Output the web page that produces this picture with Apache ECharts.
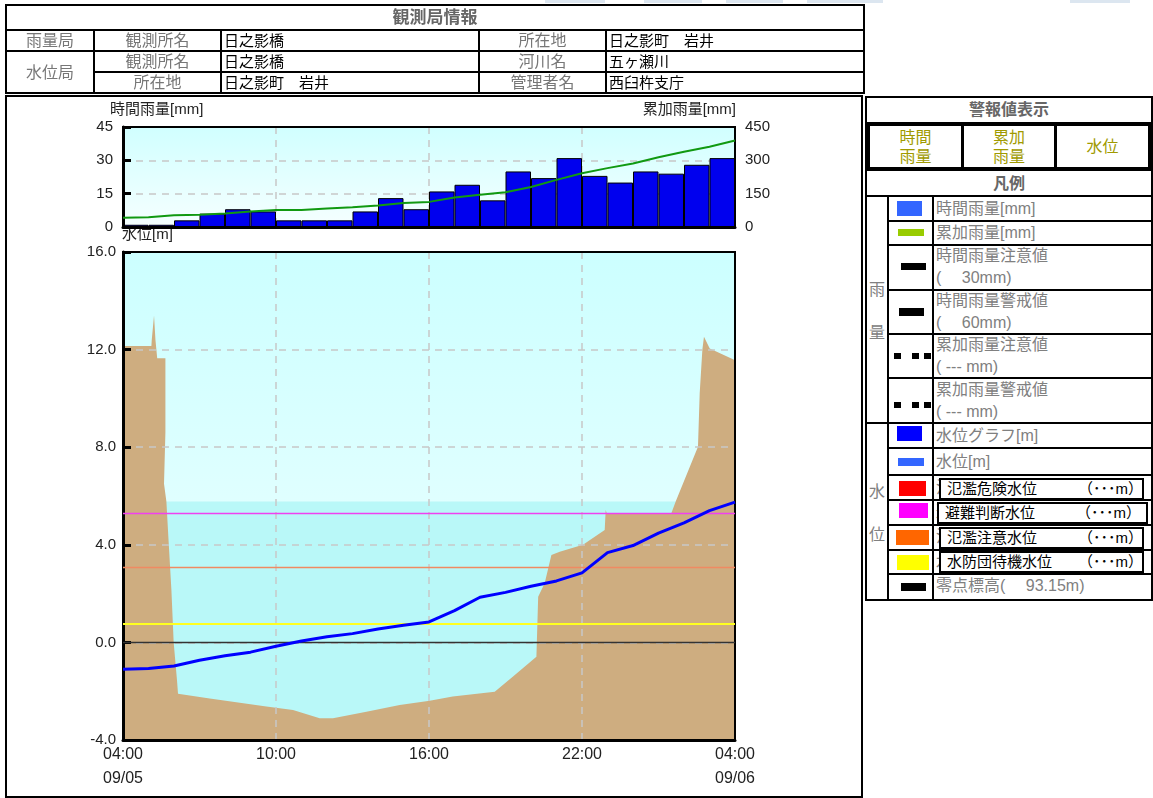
<!DOCTYPE html>
<html><head><meta charset="utf-8">
<script src="https://cdn.jsdelivr.net/npm/echarts@6/dist/echarts.min.js"></script>
<style>
body{margin:0;width:1153px;height:798px;position:relative;background:#fff;overflow:hidden;
 font-family:"Liberation Sans","Noto Sans CJK JP",sans-serif}
.a{position:absolute;box-sizing:border-box}
#chart{position:absolute;left:0;top:0;width:1153px;height:798px;z-index:2}
.info{position:absolute;left:5px;top:4px;border-collapse:collapse;table-layout:fixed;width:858px;z-index:3}
.info td{border:2px solid #000;padding:0 2px;height:19px;line-height:19px;font-size:15px;white-space:nowrap;overflow:hidden}
.info td.l{color:#777;text-align:center;font-size:16px}
.info td.v{color:#000}
.info td.t{color:#666;text-align:center;font-weight:bold;font-size:17px;height:23px;line-height:23px}
.lg{color:#808080;font-size:16px;line-height:22px;white-space:nowrap}
.hl{position:absolute;background:#000;height:2px}
.vl{position:absolute;background:#000;width:2px}
.box{position:absolute;border:2px solid #000;background:#fff;color:#000;font-size:15px;line-height:18px;box-sizing:border-box;white-space:nowrap}
.strip{position:absolute;top:0;height:3px;background:#dce6f0}
</style>
</head><body>
<div class="strip" style="left:545px;width:60px"></div>
<div class="strip" style="left:644px;width:58px"></div>
<div class="strip" style="left:726px;width:57px"></div>
<div class="strip" style="left:807px;width:76px"></div>
<div class="strip" style="left:1070px;width:60px"></div>

<table class="info">
<colgroup><col style="width:88px"><col style="width:127px"><col style="width:258px"><col style="width:127px"><col style="width:258px"></colgroup>
<tr><td class="t" colspan="5">観測局情報</td></tr>
<tr><td class="l">雨量局</td><td class="l">観測所名</td><td class="v">日之影橋</td><td class="l">所在地</td><td class="v">日之影町　岩井</td></tr>
<tr><td class="l" rowspan="2">水位局</td><td class="l">観測所名</td><td class="v">日之影橋</td><td class="l">河川名</td><td class="v">五ヶ瀬川</td></tr>
<tr><td class="l">所在地</td><td class="v">日之影町　岩井</td><td class="l">管理者名</td><td class="v">西臼杵支庁</td></tr>
</table>

<div class="a" style="left:5px;top:95px;width:858px;height:703px;border:2px solid #000"></div>

<!-- right panel -->
<div class="a" style="left:865px;top:96px;width:288px;height:505px;border:2px solid #000"></div>
<div class="a" style="left:867px;top:98px;width:284px;height:24px;text-align:center;color:#666;font-weight:bold;font-size:16px;line-height:24px">警報値表示</div>
<div class="a" style="left:867px;top:122px;width:284px;height:49px;background:#000"></div>
<div class="a" style="left:870px;top:126px;width:91px;height:41px;background:#fff;color:#a09a00;font-size:16px;line-height:19px;text-align:center;padding-top:2px">時間<br>雨量</div>
<div class="a" style="left:964px;top:126px;width:90px;height:41px;background:#fff;color:#a09a00;font-size:16px;line-height:19px;text-align:center;padding-top:2px">累加<br>雨量</div>
<div class="a" style="left:1057px;top:126px;width:91px;height:41px;background:#fff;color:#a09a00;font-size:16px;line-height:41px;text-align:center">水位</div>
<div class="a" style="left:867px;top:171px;width:284px;height:26px;text-align:center;color:#666;font-weight:bold;font-size:16px;line-height:25px;border-bottom:2px solid #000">凡例</div>
<div id="legend"></div>

<div id="chart"></div>
<script>
// ---------- data ----------
const rainHours = ['04:00','05:00','06:00','07:00','08:00','09:00','10:00','11:00','12:00','13:00','14:00','15:00',
                   '16:00','17:00','18:00','19:00','20:00','21:00','22:00','23:00','00:00','01:00','02:00','03:00'];
const rainHourly = [1,1,3,6,8,7,3,3,3,7,13,8,16,19,12,25,22,31,23,20,25,24,28,31];
const cumHours = [0,1,2,3,4,5,6,7,8,9,10,11,12,13,14,15,16,17,18,19,20,21,22,23,24];
const rainCumulative = [42,44,53,55,61,70,76,77,83,89,97,108,113,133,145,156,180,212,242,265,286,314,339,361,389];
const waterLevel = [-1.10,-1.07,-0.97,-0.73,-0.55,-0.40,-0.16,0.06,0.23,0.36,0.55,0.70,0.84,
                    1.30,1.85,2.05,2.30,2.52,2.85,3.68,3.97,4.48,4.90,5.40,5.75];
const tickHours = [0,6,12,18,24];
const tickLabels = ['04:00\n09/05','10:00','16:00','22:00','04:00\n09/06'];
const thresholdValues = [5.29,3.08,0.78,0.0];
const thresholdColors = ['#f040f0','#f08a62','#ffff20','#333333'];
const sectionDist = [0,4.64,4.70,4.93,5.07,5.23,5.30,5.56,5.59,6.93,6.93,6.70,6.70,7.09,7.47,7.91,8.28,8.82,8.99,
  14.17,23.43,27.78,32.14,34.31,39.77,45.21,50.11,53.87,60.74,63.73,67.55,67.81,67.84,68.90,70.0,71.36,75.16,
  78.71,78.87,79.03,89.61,90.31,93.95,94.23,94.67,94.93,95.87,99.67,100];
const sectionElev = [12.15,12.15,12.4,12.4,13.4,13.4,12.4,12.4,11.65,11.65,8.6,8.6,6.5,5.77,4.06,2.15,0.0,-1.54,-2.1,
  -2.3,-2.63,-2.77,-3.11,-3.11,-2.84,-2.57,-2.39,-2.22,-2.02,-1.4,-0.59,-0.55,1.87,2.42,3.58,3.72,4.0,
  4.61,5.43,5.3,5.3,5.77,8.02,10.2,12.0,12.53,12.05,11.6,11.55];
const waterSurface = 5.77;

// ---------- legend panel ----------
(function(){
  const L = document.getElementById('legend');
  let h = '';
  const hl = (x,y,w)=>{h += `<div class="hl" style="left:${x}px;top:${y}px;width:${w}px"></div>`;};
  const vl = (x,y,hh)=>{h += `<div class="vl" style="left:${x}px;top:${y}px;height:${hh}px"></div>`;};
  vl(887,197,402); vl(932,197,402);
  [220,244,289,333,377,447,474,499,524,549,573].forEach(y=>hl(888,y,263));
  hl(867,422,284);
  h += `<div class="a lg" style="left:867px;top:268px;width:20px;text-align:center;line-height:43px">雨<br>量</div>`;
  h += `<div class="a lg" style="left:867px;top:470px;width:20px;text-align:center;line-height:43px">水<br>位</div>`;
  const t = (y,txt)=>{h += `<div class="a lg" style="left:936px;top:${y}px">${txt}</div>`;};
  t(198,'時間雨量[mm]'); t(222,'累加雨量[mm]');
  t(245,'時間雨量注意値<br>(　 30mm)'); t(290,'時間雨量警戒値<br>(　 60mm)');
  t(334,'累加雨量注意値<br>( --- mm)'); t(379,'累加雨量警戒値<br>( --- mm)');
  t(425,'水位グラフ[m]'); t(451,'水位[m]');
  t(477,'氾濫危険水位'); t(501,'避難判断水位'); t(526,'氾濫注意水位'); t(551,'水防団待機水位');
  t(575,'零点標高(　 93.15m)');
  const r = (x,y,w,hh,c)=>{h += `<div class="a" style="left:${x}px;top:${y}px;width:${w}px;height:${hh}px;background:${c}"></div>`;};
  r(897,201,25,15,'#3366ff'); r(898,229,26,7,'#99cc00'); r(901,263,25,7,'#000'); r(899,308,25,8,'#000');
  [894,912,924].forEach(x=>{r(x,353,7,6,'#000'); r(x,402,7,6,'#000');});
  r(897,426,25,15,'#0000ff'); r(898,458,26,8,'#3366ff'); r(899,481,27,15,'#ff0000');
  r(899,503,29,15,'#ff00ff'); r(896,530,33,15,'#ff6600'); r(897,555,32,15,'#ffff00'); r(901,583,25,8,'#000');
  const b = (x,y,w,name)=>{h += `<div class="box" style="left:${x}px;top:${y}px;width:${w}px;height:22px;padding-left:6px">${name}<span style="position:absolute;left:137px">（･･･m）</span></div>`;};
  b(939,478,205,'氾濫危険水位'); b(937,502,211,'避難判断水位'); b(939,527,205,'氾濫注意水位'); b(939,551,205,'水防団待機水位');
  L.innerHTML = h;
})();

// ---------- chart ----------
const chart = echarts.init(document.getElementById('chart'));
const FF = '"Liberation Sans","Noto Sans CJK JP",sans-serif';
const bgRain = new echarts.graphic.LinearGradient(0,0,0,1,[{offset:0,color:'#d0ffff'},{offset:1,color:'#f6ffff'}]);
const bgLevel = new echarts.graphic.LinearGradient(0,0,0,1,[{offset:0,color:'#ccffff'},{offset:1,color:'#f2ffff'}]);
const dash = {show:true,lineStyle:{color:'#c8c8c8',type:[7,6],width:1.5}};
const blackLine = (w)=>({show:true,onZero:false,lineStyle:{color:'#000',width:w}});
const frameOnly = {axisTick:{show:false},axisLabel:{show:false},splitLine:{show:false}};

chart.setOption({
  animation:false,
  textStyle:{fontFamily:FF},
  grid:[
    {left:123,top:127,width:612,height:100,show:true,backgroundColor:bgRain,borderColor:'#000',borderWidth:2},
    {left:123,top:252,width:612,height:488,show:true,backgroundColor:bgLevel,borderColor:'#000',borderWidth:2}
  ],
  xAxis:[
    {gridIndex:0,type:'category',data:rainHours,boundaryGap:true,z:3,axisLine:blackLine(3),...frameOnly},
    {gridIndex:0,type:'value',min:0,max:24,interval:6,position:'bottom',axisLine:{show:false},
     axisTick:{show:false},axisLabel:{show:false},splitLine:dash},
    {gridIndex:1,type:'value',min:0,max:24,interval:6,z:3,axisLine:blackLine(3),axisTick:{show:false},
     splitLine:dash,
     axisLabel:{show:true,fontSize:16,color:'#222',lineHeight:24,margin:3,showMinLabel:true,showMaxLabel:true,
       formatter:v=>{const i=tickHours.indexOf(v);return i>=0?tickLabels[i]:'';}}},
    {gridIndex:1,type:'value',min:0,max:100,show:false},
    {gridIndex:0,type:'value',min:0,max:24,position:'top',z:4,axisLine:blackLine(2),...frameOnly},
    {gridIndex:1,type:'value',min:0,max:24,position:'top',z:4,axisLine:blackLine(2),...frameOnly}
  ],
  yAxis:[
    {gridIndex:0,type:'value',min:0,max:45,interval:15,z:3,axisLine:blackLine(3),
     axisTick:{show:true,inside:true,length:8,lineStyle:{color:'#000',width:3}},
     axisLabel:{fontSize:15,color:'#222',margin:10},splitLine:{show:false}},
    {gridIndex:0,type:'value',min:0,max:450,interval:150,position:'right',axisLine:{show:false},
     axisTick:{show:false},axisLabel:{fontSize:15,color:'#222',margin:10},splitLine:dash},
    {gridIndex:1,type:'value',min:-4,max:16,interval:4,z:3,axisLine:blackLine(3),
     axisTick:{show:true,inside:true,length:8,lineStyle:{color:'#000',width:3}},
     axisLabel:{fontSize:15,color:'#222',margin:7,formatter:v=>v.toFixed(1)},splitLine:dash},
    {gridIndex:1,type:'value',min:-4,max:16,position:'right',z:4,axisLine:blackLine(2),...frameOnly},
    {gridIndex:0,type:'value',min:0,max:45,position:'right',z:4,axisLine:blackLine(2),...frameOnly}
  ],
  series:[
    {type:'bar',xAxisIndex:0,yAxisIndex:0,data:rainHourly,barCategoryGap:'0%',
     itemStyle:{color:'#0000ee',borderColor:'#000',borderWidth:1}},
    {type:'line',xAxisIndex:1,yAxisIndex:1,data:cumHours.map((h,i)=>[h,rainCumulative[i]]),
     symbol:'none',lineStyle:{color:'#119911',width:2},z:4},
    {type:'line',xAxisIndex:3,yAxisIndex:2,data:[[0,waterSurface],[100,waterSurface]],symbol:'none',
     lineStyle:{width:0},areaStyle:{color:'#b9f8f8',opacity:1,origin:'start'},z:1},
    {type:'line',xAxisIndex:3,yAxisIndex:2,data:sectionDist.map((d,i)=>[d,sectionElev[i]]),symbol:'none',
     lineStyle:{width:0},areaStyle:{color:'#cead80',opacity:1,origin:'start'},z:2},
    {type:'line',xAxisIndex:2,yAxisIndex:2,data:[],symbol:'none',z:4,
     markLine:{silent:true,symbol:'none',label:{show:false},
       data:thresholdValues.map((v,i)=>({yAxis:v,lineStyle:{color:thresholdColors[i],type:'solid',width:i===2?2:1.3}}))}},
    {type:'line',xAxisIndex:2,yAxisIndex:2,data:cumHours.map((h,i)=>[h,waterLevel[i]]),symbol:'none',
     lineStyle:{color:'#0000ff',width:3},z:5}
  ],
  graphic:[
    {type:'text',left:110,top:102,style:{text:'時間雨量[mm]',font:'15px '+FF,fill:'#222'}},
    {type:'text',right:1153-736,top:102,style:{text:'累加雨量[mm]',font:'15px '+FF,fill:'#222'}},
    {type:'text',left:122,top:227,style:{text:'水位[m]',font:'15px '+FF,fill:'#222'}}
  ]
});
</script>
</body></html>
